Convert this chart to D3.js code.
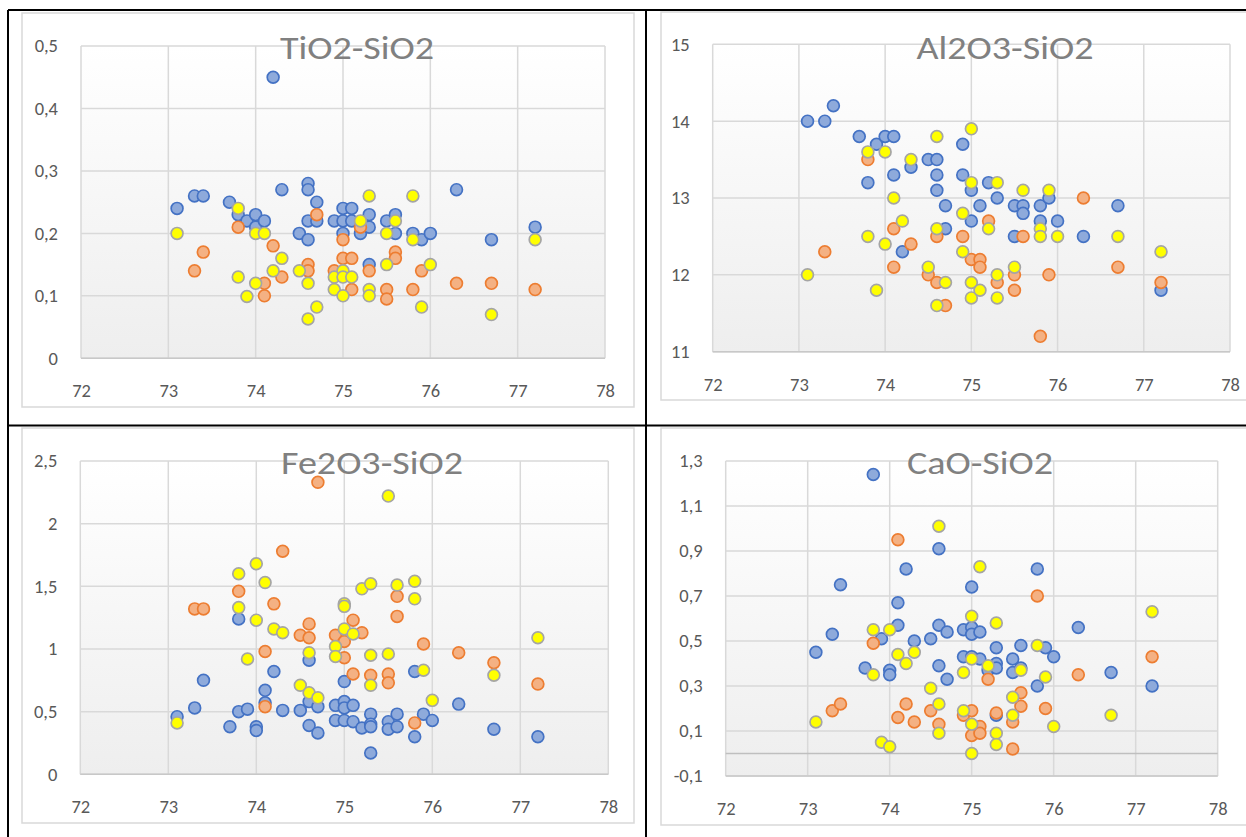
<!DOCTYPE html>
<html>
<head>
<meta charset="utf-8">
<script src="https://cdn.jsdelivr.net/npm/d3@7"></script>
<style>
  html, body { margin: 0; padding: 0; background: #ffffff; }
  svg { display: block; }
  text { font-family: Carlito, Calibri, Lato, sans-serif; }
</style>
</head>
<body>
<svg id="chart" width="1246" height="837"></svg>
<script>
// ---- data: [SiO2, oxide] pairs, three sample groups per diagram ----
const tio2Blue = [[73.1,0.24],[73.3,0.26],[73.4,0.26],[73.7,0.25],[73.8,0.23],[73.9,0.22],[74.0,0.23],[74.0,0.21],[74.1,0.22],[74.2,0.45],[74.3,0.27],[74.5,0.20],[74.6,0.28],[74.6,0.27],[74.6,0.22],[74.6,0.19],[74.7,0.25],[74.7,0.22],[74.9,0.22],[75.0,0.24],[75.0,0.22],[75.0,0.20],[75.1,0.24],[75.1,0.22],[75.2,0.20],[75.3,0.23],[75.3,0.21],[75.3,0.15],[75.5,0.22],[75.6,0.23],[75.6,0.20],[75.8,0.20],[75.9,0.19],[76.0,0.20],[76.3,0.27],[76.7,0.19],[77.2,0.21]];
const tio2Orange = [[73.3,0.14],[73.4,0.17],[73.8,0.21],[74.1,0.12],[74.1,0.10],[74.2,0.18],[74.3,0.13],[74.6,0.15],[74.6,0.14],[74.7,0.23],[74.9,0.14],[75.0,0.19],[75.0,0.16],[75.1,0.16],[75.1,0.11],[75.2,0.21],[75.3,0.14],[75.5,0.11],[75.5,0.095],[75.6,0.17],[75.6,0.16],[75.8,0.11],[75.9,0.14],[76.3,0.12],[76.7,0.12],[77.2,0.11]];
const tio2Yellow = [[73.1,0.20],[73.8,0.24],[73.8,0.13],[73.9,0.099],[74.0,0.20],[74.0,0.12],[74.1,0.20],[74.2,0.14],[74.3,0.16],[74.5,0.14],[74.6,0.12],[74.6,0.063],[74.7,0.082],[74.9,0.13],[74.9,0.11],[75.0,0.14],[75.0,0.13],[75.0,0.10],[75.1,0.13],[75.2,0.22],[75.3,0.26],[75.3,0.11],[75.3,0.10],[75.5,0.20],[75.5,0.15],[75.6,0.22],[75.8,0.26],[75.8,0.19],[75.9,0.082],[76.0,0.15],[76.7,0.07],[77.2,0.19]];

const al2o3Blue = [[73.1,14.0],[73.3,14.0],[73.4,14.2],[73.7,13.8],[73.8,13.2],[73.9,13.7],[74.0,13.8],[74.1,13.8],[74.1,13.3],[74.2,12.3],[74.3,13.4],[74.5,13.5],[74.6,13.5],[74.6,13.3],[74.6,13.1],[74.7,12.9],[74.7,12.6],[74.9,13.7],[74.9,13.3],[75.0,13.1],[75.0,12.7],[75.1,12.9],[75.2,13.2],[75.3,13.0],[75.5,12.9],[75.5,12.5],[75.6,12.9],[75.6,12.8],[75.8,12.9],[75.8,12.7],[75.9,13.0],[76.0,12.7],[76.3,12.5],[76.7,12.9],[77.2,11.8]];
const al2o3Orange = [[73.3,12.3],[73.8,13.5],[74.1,12.6],[74.1,12.1],[74.3,12.4],[74.5,12.0],[74.6,12.5],[74.6,11.9],[74.7,11.6],[74.9,12.5],[75.0,12.2],[75.1,12.2],[75.1,12.1],[75.2,12.7],[75.3,11.9],[75.5,12.0],[75.5,11.8],[75.6,12.5],[75.8,11.2],[75.9,12.0],[76.3,13.0],[76.7,12.1],[77.2,11.9]];
const al2o3Yellow = [[73.1,12.0],[73.8,13.6],[73.8,12.5],[73.9,11.8],[74.0,13.6],[74.0,12.4],[74.1,13.0],[74.2,12.7],[74.3,13.5],[74.5,12.1],[74.6,13.8],[74.6,12.6],[74.6,11.6],[74.7,11.9],[74.9,12.8],[74.9,12.3],[75.0,13.9],[75.0,13.2],[75.0,11.9],[75.0,11.7],[75.1,11.8],[75.2,12.6],[75.3,13.2],[75.3,12.0],[75.3,11.7],[75.5,12.1],[75.6,13.1],[75.8,12.6],[75.8,12.5],[75.9,13.1],[76.0,12.5],[76.7,12.5],[77.2,12.3]];

const fe2o3Blue = [[73.1,0.46],[73.3,0.53],[73.4,0.75],[73.7,0.38],[73.8,1.24],[73.8,0.50],[73.9,0.52],[74.0,0.38],[74.0,0.35],[74.1,0.67],[74.1,0.57],[74.2,0.82],[74.3,0.51],[74.5,0.51],[74.6,0.91],[74.6,0.58],[74.6,0.39],[74.7,0.54],[74.7,0.33],[74.9,0.55],[74.9,0.43],[75.0,0.74],[75.0,0.58],[75.0,0.53],[75.0,0.43],[75.1,0.55],[75.1,0.42],[75.2,0.37],[75.3,0.48],[75.3,0.40],[75.3,0.38],[75.3,0.17],[75.5,0.42],[75.5,0.36],[75.6,0.48],[75.6,0.38],[75.8,0.82],[75.8,0.30],[75.9,0.48],[76.0,0.43],[76.3,0.56],[76.7,0.36],[77.2,0.30]];
const fe2o3Orange = [[73.3,1.32],[73.4,1.32],[73.8,1.46],[74.1,0.98],[74.1,0.54],[74.2,1.36],[74.3,1.78],[74.5,1.11],[74.6,1.20],[74.6,1.09],[74.7,2.33],[74.9,1.11],[75.0,1.06],[75.0,0.93],[75.1,1.23],[75.1,0.80],[75.2,1.13],[75.3,0.79],[75.5,0.80],[75.5,0.73],[75.6,1.42],[75.6,1.26],[75.8,0.41],[75.9,1.04],[76.3,0.97],[76.7,0.89],[77.2,0.72]];
const fe2o3Yellow = [[73.1,0.41],[73.8,1.60],[73.8,1.33],[73.9,0.92],[74.0,1.68],[74.0,1.23],[74.1,1.53],[74.2,1.16],[74.3,1.13],[74.5,0.71],[74.6,0.97],[74.6,0.65],[74.7,0.61],[74.9,1.02],[74.9,0.94],[75.0,1.36],[75.0,1.34],[75.0,1.16],[75.1,1.12],[75.2,1.48],[75.3,1.52],[75.3,0.95],[75.3,0.71],[75.5,2.22],[75.5,0.96],[75.6,1.51],[75.8,1.54],[75.8,1.40],[75.9,0.83],[76.0,0.59],[76.7,0.79],[77.2,1.09]];

const caoBlue = [[73.1,0.45],[73.3,0.53],[73.4,0.75],[73.7,0.38],[73.8,1.24],[73.9,0.51],[74.0,0.37],[74.0,0.35],[74.1,0.67],[74.1,0.57],[74.2,0.82],[74.3,0.50],[74.5,0.51],[74.6,0.91],[74.6,0.57],[74.6,0.39],[74.7,0.54],[74.7,0.33],[74.9,0.55],[74.9,0.43],[75.0,0.74],[75.0,0.56],[75.0,0.53],[75.0,0.43],[75.1,0.54],[75.1,0.42],[75.2,0.37],[75.3,0.47],[75.3,0.40],[75.3,0.38],[75.3,0.17],[75.5,0.42],[75.5,0.36],[75.6,0.48],[75.6,0.38],[75.8,0.82],[75.8,0.30],[75.9,0.47],[76.0,0.43],[76.3,0.56],[76.7,0.36],[77.2,0.30]];
const caoOrange = [[73.3,0.19],[73.4,0.22],[73.8,0.49],[74.1,0.95],[74.1,0.16],[74.2,0.22],[74.3,0.14],[74.5,0.19],[74.6,0.13],[74.9,0.17],[75.0,0.19],[75.0,0.08],[75.1,0.12],[75.1,0.09],[75.2,0.33],[75.3,0.18],[75.5,0.14],[75.5,0.02],[75.6,0.27],[75.6,0.21],[75.8,0.70],[75.9,0.20],[76.3,0.35],[77.2,0.43]];
const caoYellow = [[73.1,0.14],[73.8,0.55],[73.8,0.35],[73.9,0.05],[74.0,0.55],[74.0,0.03],[74.1,0.44],[74.2,0.40],[74.3,0.45],[74.5,0.29],[74.6,1.01],[74.6,0.22],[74.6,0.09],[74.9,0.36],[74.9,0.19],[75.0,0.61],[75.0,0.42],[75.0,0.13],[75.0,0.00],[75.1,0.83],[75.2,0.39],[75.3,0.58],[75.3,0.09],[75.3,0.04],[75.5,0.25],[75.5,0.17],[75.6,0.37],[75.8,0.48],[75.9,0.34],[76.0,0.12],[76.7,0.17],[77.2,0.63]];

// ---- axes ----
const silicaTicks = [72, 73, 74, 75, 76, 77, 78];
const tio2Ticks = [0, 0.1, 0.2, 0.3, 0.4, 0.5];
const al2o3Ticks = [11, 12, 13, 14, 15];
const fe2o3Ticks = [0, 0.5, 1, 1.5, 2, 2.5];
const caoTicks = [-0.1, 0.1, 0.3, 0.5, 0.7, 0.9, 1.1, 1.3];
const titles = ["TiO2-SiO2", "Al2O3-SiO2", "Fe2O3-SiO2", "CaO-SiO2"];

// ---- styling ----
const seriesStyle = [
  { fill: "#8eaadb", stroke: "#4472c4" },
  { fill: "#f4b183", stroke: "#ed7d31" },
  { fill: "#ffff00", stroke: "#a5a5a5" }
];

const locale = d3.formatLocale({ decimal: ",", thousands: " ", grouping: [3], currency: ["", ""], minus: "-" });
const fmt = locale.format("~g");

const panels = [
  { title: titles[0], series: [tio2Blue, tio2Orange, tio2Yellow], yTicks: tio2Ticks,
    box: [22, 13, 612, 394], plot: [81, 605, 46, 358.3], titleX: 357, titleY: 59 },
  { title: titles[1], series: [al2o3Blue, al2o3Orange, al2o3Yellow], yTicks: al2o3Ticks,
    box: [661, 12, 620, 388], plot: [712.7, 1230, 44.3, 351.7], titleX: 1005, titleY: 59 },
  { title: titles[2], series: [fe2o3Blue, fe2o3Orange, fe2o3Yellow], yTicks: fe2o3Ticks,
    box: [22, 428, 612, 395], plot: [80.3, 608.3, 461, 774.3], titleX: 372, titleY: 474 },
  { title: titles[3], series: [caoBlue, caoOrange, caoYellow], yTicks: caoTicks, zeroLine: true,
    box: [661, 428, 620, 397], plot: [725.7, 1217.7, 461, 776], titleX: 980, titleY: 474 }
];

const svg = d3.select("#chart");
const defs = svg.append("defs");
const grad = defs.append("linearGradient").attr("id", "plotFill")
  .attr("x1", 0).attr("y1", 0).attr("x2", 0).attr("y2", 1);
grad.append("stop").attr("offset", "0%").attr("stop-color", "#ffffff");
grad.append("stop").attr("offset", "100%").attr("stop-color", "#eeeeee");

panels.forEach(p => {
  const [bx, by, bw, bh] = p.box;
  const [x0, x1, y0, y1] = p.plot;
  const g = svg.append("g");

  // chart frame
  g.append("rect").attr("x", bx).attr("y", by).attr("width", bw).attr("height", bh)
    .attr("fill", "#ffffff").attr("stroke", "#d9d9d9").attr("stroke-width", 1.5);

  const x = d3.scaleLinear().domain([72, 78]).range([x0, x1]);
  const yDom = d3.extent(p.yTicks);
  const y = d3.scaleLinear().domain(yDom).range([y1, y0]);

  // plot area
  g.append("rect").attr("x", x0).attr("y", y0).attr("width", x1 - x0).attr("height", y1 - y0)
    .attr("fill", "url(#plotFill)");

  // gridlines
  g.append("g").selectAll("line").data(silicaTicks).join("line")
    .attr("x1", d => x(d)).attr("x2", d => x(d)).attr("y1", y0).attr("y2", y1)
    .attr("stroke", "#d9d9d9").attr("stroke-width", 1.5);
  g.append("g").selectAll("line").data(p.yTicks).join("line")
    .attr("x1", x0).attr("x2", x1).attr("y1", d => y(d)).attr("y2", d => y(d))
    .attr("stroke", "#d9d9d9").attr("stroke-width", 1.5);
  // horizontal axis line
  g.append("line").attr("x1", x0).attr("x2", x1).attr("y1", y1).attr("y2", y1)
    .attr("stroke", "#c8c8c8").attr("stroke-width", 1.5);
  if (p.zeroLine) {
    g.append("line").attr("x1", x0).attr("x2", x1).attr("y1", y(0)).attr("y2", y(0))
      .attr("stroke", "#bfbfbf").attr("stroke-width", 1.5);
  }

  // axes labels
  const ax = g.append("g").attr("transform", `translate(0,${y1})`)
    .call(d3.axisBottom(x).tickValues(silicaTicks).tickSize(0).tickPadding(26).tickFormat(fmt));
  const ay = g.append("g").attr("transform", `translate(${x0},0)`)
    .call(d3.axisLeft(y).tickValues(p.yTicks).tickSize(0).tickPadding(23).tickFormat(fmt));
  [ax, ay].forEach(a => {
    a.select(".domain").remove();
    a.selectAll("text").attr("fill", "#595959").style("font-size", "18.5px")
      .style("font-family", "Carlito, Calibri, Lato, sans-serif");
  });

  // markers
  p.series.forEach((pts, i) => {
    g.append("g").selectAll("circle").data(pts).join("circle")
      .attr("cx", d => x(d[0])).attr("cy", d => y(d[1])).attr("r", 5.9)
      .attr("fill", seriesStyle[i].fill).attr("stroke", seriesStyle[i].stroke)
      .attr("stroke-width", 1.7);
  });

  // title (slightly widened letterforms)
  g.append("text").attr("transform", `translate(${p.titleX},${p.titleY}) scale(1.19,1)`)
    .attr("text-anchor", "middle")
    .attr("fill", "#808080").style("font-size", "32px").text(p.title);
});

// table rules
const rules = [
  [8, 10, 1246, 10], [8, 10, 8, 837],
  [646, 10, 646, 837], [8, 425.5, 1246, 425.5]
];
svg.append("g").selectAll("line").data(rules).join("line")
  .attr("x1", d => d[0]).attr("y1", d => d[1]).attr("x2", d => d[2]).attr("y2", d => d[3])
  .attr("stroke", "#000000").attr("stroke-width", 2);
</script>
</body>
</html>
